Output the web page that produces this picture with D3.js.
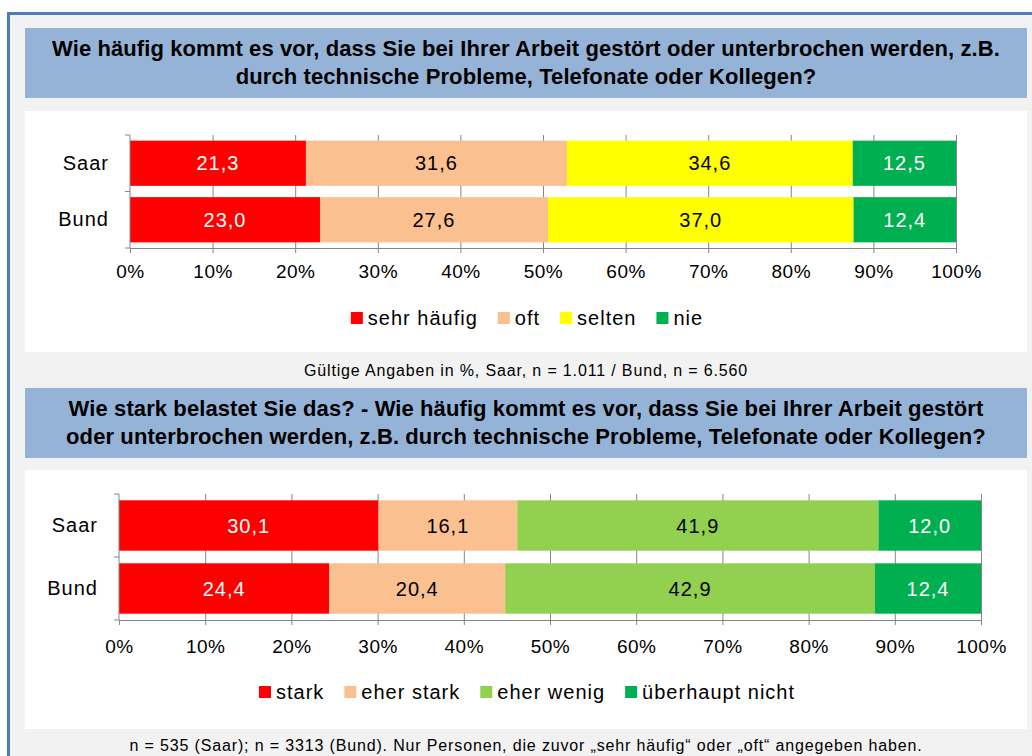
<!DOCTYPE html>
<html>
<head>
	<meta charset="utf-8">
	<script src="https://cdnjs.cloudflare.com/ajax/libs/d3/7.8.5/d3.min.js"></script>
	<style>
		body {
			margin: 0;
			background: #ffffff;
			font-family: 'Liberation Sans', Arial, sans-serif;
		}
		.title { font-weight: bold; font-size: 22px; letter-spacing: 0.1px; fill: #000; text-anchor: middle; }
		.note { font-size: 16px; letter-spacing: 0.85px; fill: #000; text-anchor: middle; }
		.axis text { font-size: 19px; letter-spacing: 0.5px; fill: #000; font-family: 'Liberation Sans', Arial, sans-serif; }
		.axis .cat text { font-size: 20px; letter-spacing: 1px; }
		.axis path, .axis line { stroke: #868686; }
		.grid line { stroke: #868686; }
		.grid path { display: none; }
		.legend text { font-size: 20px; letter-spacing: 1px; fill: #000; }
		.val { font-size: 20px; letter-spacing: 1px; text-anchor: middle; }
	</style>
</head>
<body>
<div id="chart"></div>
<script>

//////////////////// Data ////////////////////
var categories = ["Saar", "Bund"];

var keys1 = ["sehr häufig", "oft", "selten", "nie"];
var saar1 = [21.3, 31.6, 34.6, 12.5];
var bund1 = [23.0, 27.6, 37.0, 12.4];
var colors1 = ["#ff0000", "#fac090", "#ffff00", "#00b050"];

var keys2 = ["stark", "eher stark", "eher wenig", "überhaupt nicht"];
var saar2 = [30.1, 16.1, 41.9, 12.0];
var bund2 = [24.4, 20.4, 42.9, 12.4];
var colors2 = ["#ff0000", "#fac090", "#92d050", "#00b050"];

var tickValues = [0, 10, 20, 30, 40, 50, 60, 70, 80, 90, 100];

var title1 = ["Wie häufig kommt es vor, dass Sie bei Ihrer Arbeit gestört oder unterbrochen werden, z.B.",
              "durch technische Probleme, Telefonate oder Kollegen?"];
var title2 = ["Wie stark belastet Sie das? - Wie häufig kommt es vor, dass Sie bei Ihrer Arbeit gestört",
              "oder unterbrochen werden, z.B. durch technische Probleme, Telefonate oder Kollegen?"];
var note1 = "Gültige Angaben in %, Saar, n = 1.011 / Bund, n = 6.560";
var note2 = "n = 535 (Saar); n = 3313 (Bund). Nur Personen, die zuvor „sehr häufig“ oder „oft“ angegeben haben.";

//////////////////// Canvas ////////////////////
var W = 1032, H = 756;
var svg = d3.select("#chart").append("svg")
	.attr("width", W).attr("height", H)
	.style("display", "block");

//grey background with the blue frame
svg.append("rect").attr("x", 9).attr("y", 14).attr("width", W - 9).attr("height", H - 14).attr("fill", "#f2f2f2");
svg.append("line").attr("x1", 7).attr("x2", W).attr("y1", 13.5).attr("y2", 13.5)
	.attr("stroke", "#4a7ebb").attr("stroke-width", 3);
svg.append("line").attr("x1", 8.5).attr("x2", 8.5).attr("y1", 12).attr("y2", H)
	.attr("stroke", "#4a7ebb").attr("stroke-width", 3);

//////////////////// One panel ////////////////////
function drawPanel(cfg) {
	//title box
	svg.append("rect").attr("x", 25).attr("y", cfg.titleY).attr("width", 1002).attr("height", 70)
		.attr("fill", "#95b3d7");
	svg.selectAll(null).data(cfg.title).enter().append("text")
		.attr("class", "title")
		.attr("x", 526)
		.attr("y", function(d, i) { return cfg.titleY + 28 + i * 28; })
		.text(function(d) { return d; });

	//white plot area
	svg.append("rect").attr("x", 25).attr("y", cfg.boxY).attr("width", 1002).attr("height", cfg.boxH)
		.attr("fill", "#ffffff");

	var x = d3.scaleLinear().domain([0, 100]).range(cfg.xRange).clamp(true);
	var y = d3.scaleBand().domain(categories).range(cfg.yRange).paddingInner(0.2).paddingOuter(0.1);
	var h = cfg.yRange[1] - cfg.yRange[0];

	var g = svg.append("g");

	//grid lines behind bars
	g.append("g").attr("class", "grid")
		.attr("transform", "translate(0," + cfg.yRange[1] + ")")
		.call(d3.axisBottom(x).tickValues(tickValues.slice(1)).tickSize(h).tickSizeOuter(0).tickFormat(""))
		.selectAll("line").attr("y2", -h);

	//stacked bars
	var rows = categories.map(function(c, i) {
		var r = {cat: c};
		cfg.keys.forEach(function(k, j) { r[k] = cfg.values[i][j]; });
		return r;
	});
	var series = d3.stack().keys(cfg.keys)(rows);
	var color = d3.scaleOrdinal().domain(cfg.keys).range(cfg.colors);

	var layer = g.selectAll(".layer").data(series).enter().append("g")
		.attr("fill", function(d) { return color(d.key); });
	layer.selectAll("rect").data(function(d) { return d; }).enter().append("rect")
		.attr("x", function(d) { return x(d[0]); })
		.attr("y", function(d) { return y(d.data.cat); })
		.attr("width", function(d) { return x(d[1]) - x(d[0]); })
		.attr("height", y.bandwidth());

	layer.each(function(s, si) {
		d3.select(this).selectAll("text").data(s).enter().append("text")
			.attr("class", "val")
			.attr("x", function(d) { return (x(d[0]) + x(d[1])) / 2; })
			.attr("y", function(d) { return y(d.data.cat) + y.bandwidth() / 2; })
			.attr("dy", "0.35em")
			.attr("fill", (si === 0 || si === 3) ? "#ffffff" : "#000000")
			.text(function(d) { return d3.format(".1f")(d[1] - d[0]).replace(".", ","); });
	});

	//x axis
	g.append("g").attr("class", "axis")
		.attr("transform", "translate(0," + cfg.yRange[1] + ")")
		.call(d3.axisBottom(x).tickValues(tickValues).tickSize(5).tickSizeOuter(0).tickPadding(cfg.tickPad)
			.tickFormat(function(d) { return d + "%"; }));

	//y axis with ticks between categories
	var ya = g.append("g").attr("class", "axis")
		.attr("transform", "translate(" + cfg.xRange[0] + ",0)");
	ya.append("g").attr("class", "cat")
		.call(d3.axisLeft(y).tickSize(0).tickPadding(21))
		.select(".domain").remove();
	ya.append("line").attr("y1", cfg.yRange[0]).attr("y2", cfg.yRange[1]).attr("stroke", "#868686");
	var bounds = [cfg.yRange[0], y(categories[1]) - y.step() * y.paddingInner() / 2, cfg.yRange[1]];
	ya.selectAll(".bt").data(bounds).enter().append("line")
		.attr("x1", -5).attr("x2", 0)
		.attr("y1", function(d) { return d; }).attr("y2", function(d) { return d; })
		.attr("stroke", "#868686");

	//legend
	var lg = svg.append("g").attr("class", "legend");
	var items = lg.selectAll("g").data(cfg.keys).enter().append("g");
	items.append("rect").attr("width", 12).attr("height", 12).attr("y", -6)
		.attr("fill", function(d) { return color(d); });
	items.append("text").attr("x", 17).attr("dy", "0.35em").text(function(d) { return d; });
	var xpos = 0;
	items.each(function() {
		d3.select(this).attr("transform", "translate(" + xpos + ",0)");
		xpos += 17 + this.querySelector("text").getComputedTextLength() + 20;
	});
	xpos -= 20;
	lg.attr("transform", "translate(" + (527 - xpos / 2) + "," + cfg.legendY + ")");

	//note below
	svg.append("text").attr("class", "note")
		.attr("x", 526).attr("y", cfg.noteY).attr("dy", "0.35em")
		.text(cfg.note);
}

drawPanel({
	title: title1, titleY: 28, boxY: 111, boxH: 241,
	keys: keys1, values: [saar1, bund1], colors: colors1,
	xRange: [130, 956], yRange: [135, 248], tickPad: 12,
	legendY: 318, note: note1, noteY: 370
});

drawPanel({
	title: title2, titleY: 388, boxY: 470, boxH: 259,
	keys: keys2, values: [saar2, bund2], colors: colors2,
	xRange: [119, 981], yRange: [494, 620], tickPad: 15,
	legendY: 692, note: note2, noteY: 745
});

</script>
</body>
</html>
